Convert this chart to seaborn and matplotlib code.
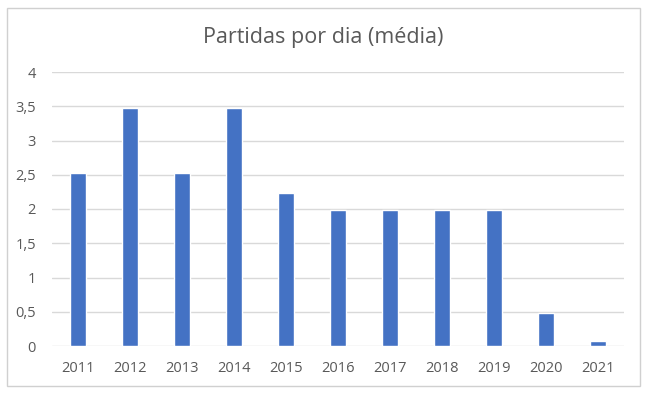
import matplotlib
matplotlib.use("Agg")
import matplotlib.pyplot as plt
import seaborn as sns
import pandas as pd
from matplotlib.patches import Rectangle

years = ["2011", "2012", "2013", "2014", "2015", "2016", "2017", "2018", "2019", "2020", "2021"]
values = [2.52, 3.48, 2.52, 3.48, 2.23, 1.99, 1.98, 1.99, 1.98, 0.48, 0.08]
yticks = [0, 0.5, 1, 1.5, 2, 2.5, 3, 3.5, 4]
ytick_labels = ["0", "0,5", "1", "1,5", "2", "2,5", "3", "3,5", "4"]
title = "Partidas por dia (média)"

sns.set_theme(style="white")
plt.rcParams['font.family'] = ['Open Sans', 'DejaVu Sans']

df = pd.DataFrame({"ano": years, "valor": values})

fig = plt.figure(figsize=(6.47, 3.97), dpi=100)
ax = fig.add_axes([52/647, 1-346/397, (624-52)/647, (346-72)/397])

sns.barplot(data=df, x="ano", y="valor", color="#4472C4", width=0.31,
            saturation=1, ax=ax, zorder=3)

ax.set_ylim(0, 4)
ax.set_xlim(-0.5, len(years)-0.5)
ax.set_yticks(yticks)
ax.set_yticklabels(ytick_labels)
ax.grid(axis="y", color="#D9D9D9", linewidth=1, zorder=0)
ax.set_axisbelow(True)
for s in ax.spines.values():
    s.set_visible(False)
ax.set_xlabel("")
ax.set_ylabel("")
ax.tick_params(axis="both", length=0, labelsize=10.5, colors="#595959")
ax.tick_params(axis="x", pad=11)
ax.tick_params(axis="y", pad=11.5)

fig.text(0.5, 1-37/397, title, ha="center", va="center", fontsize=15.5, color="#595959")

fig.patches.append(Rectangle((7/647, 1-386/397), 633/647, 378/397, transform=fig.transFigure,
                             fill=False, edgecolor="#D0D0D0", linewidth=1))

fig.savefig("out.png", dpi=100, facecolor="white")
